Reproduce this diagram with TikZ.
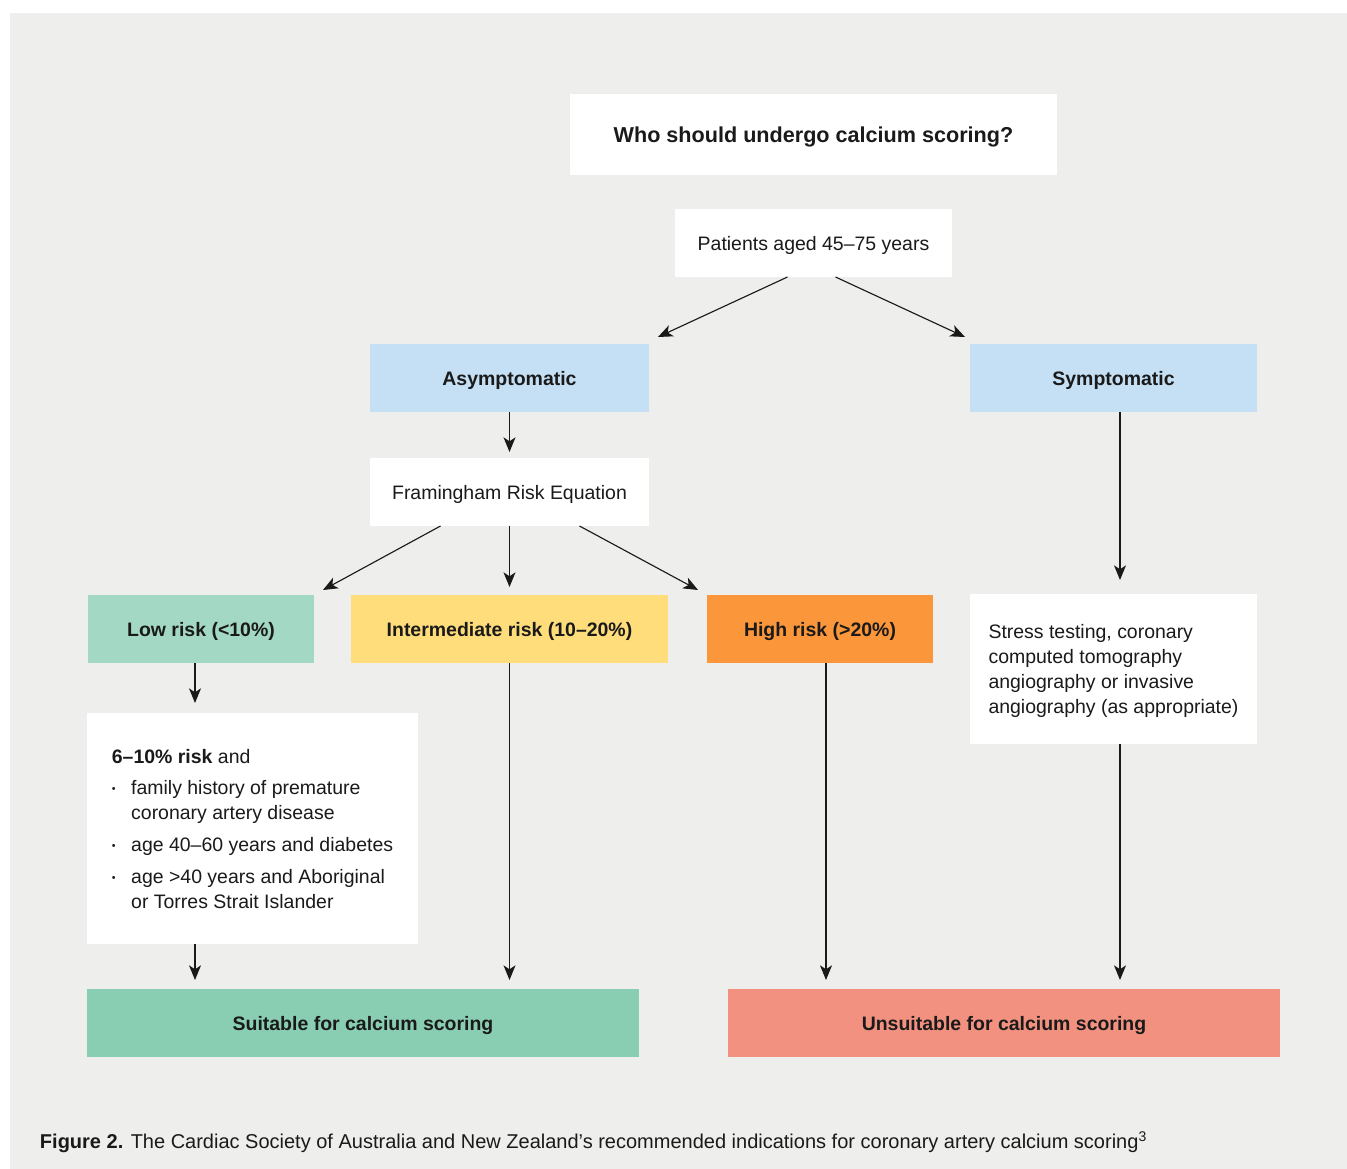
\documentclass[tikz,border=0pt]{standalone}
\usepackage{fontspec}
\usepackage{xcolor}
\usetikzlibrary{arrows.meta,calc}
\setmainfont{Liberation Sans}

\definecolor{bgray}{HTML}{EEEEEC}
\definecolor{skyblue}{HTML}{C5E0F4}
\definecolor{lowgreen}{HTML}{A3D9C4}
\definecolor{midyellow}{HTML}{FEDD7A}
\definecolor{highorange}{HTML}{FB963A}
\definecolor{okgreen}{HTML}{89CEB3}
\definecolor{nosalmon}{HTML}{F2917F}
\definecolor{ink}{HTML}{1A1A1A}

\def\px{0.75pt}

\begin{document}
\begin{tikzpicture}[x=\px, y=-\px,
    every node/.style={inner sep=0pt, outer sep=0pt, text=ink, font=\fontsize{14.6}{18.75}\selectfont},
    box/.style 2 args={minimum width=#1*\px, minimum height=#2*\px, align=center, text depth=0pt},
    head/.style={font=\fontsize{14.6}{18.75}\selectfont\bfseries},
    arr/.style={draw=ink, line width=0.85pt, -{Stealth[length=11pt, width=9pt, inset=3pt]}}]
    \useasboundingbox (0,0) rectangle (1347,1169);
    \fill[white] (0,0) rectangle (1347,1169);
    \fill[bgray] (10,13) rectangle (1347,1169);

    \node[box={487}{81}, fill=white, font=\fontsize{16.2}{20}\selectfont\bfseries] (title) at (813.5,134.5) {Who should undergo calcium scoring?};
    \node[box={277}{68}, fill=white] (pat) at (813.5,243) {Patients aged 45--75 years};
    \node[box={279}{68}, fill=skyblue, head] (asym) at (509.5,378) {Asymptomatic};
    \node[box={287}{68}, fill=skyblue, head] (sym) at (1113.5,378) {Symptomatic};
    \node[box={279}{68}, fill=white] (fram) at (509.5,492) {Framingham Risk Equation};
    \node[box={226}{68}, fill=lowgreen, head] (low) at (201,629) {Low risk (<10\%)};
    \node[box={317}{68}, fill=midyellow, head] (inter) at (509.5,629) {Intermediate risk (10--20\%)};
    \node[box={226}{68}, fill=highorange, head] (high) at (820,629) {High risk (>20\%)};
    \node[box={287}{150}, fill=white, align=left] (stress) at (1113.5,669)
        {Stress testing, coronary\\computed tomography\\angiography or invasive\\angiography (as appropriate)};
    \node[box={331}{231}, fill=white, align=left] (lowdet) at (252.5,828.5)
        {\textbf{6--10\% risk} and\\[5pt]
         \makebox[14.5pt][l]{\raisebox{1.5pt}{\scalebox{0.55}{\textbullet}}}family history of premature\\
         \makebox[14.5pt][l]{}coronary artery disease\\[5pt]
         \makebox[14.5pt][l]{\raisebox{1.5pt}{\scalebox{0.55}{\textbullet}}}age 40--60 years and diabetes\\[5pt]
         \makebox[14.5pt][l]{\raisebox{1.5pt}{\scalebox{0.55}{\textbullet}}}age >40 years and Aboriginal\\
         \makebox[14.5pt][l]{}or Torres Strait Islander};
    \node[box={552}{68}, fill=okgreen, head] (suit) at (363,1023) {Suitable for calcium scoring};
    \node[box={552}{68}, fill=nosalmon, head] (unsuit) at (1004,1023) {Unsuitable for calcium scoring};

    \node[anchor=base west, font=\fontsize{15}{18}\selectfont] (caption) at (40,1148)
        {\textbf{Figure 2.} The Cardiac Society of Australia and New Zealand’s recommended indications for coronary artery calcium scoring\textsuperscript{3}};

    % patients -> branches
    \draw[arr] ($(pat.south)+(-26,0)$) -- ($(asym.north east)+(9,-7)$);
    \draw[arr] ($(pat.south)+(22,0)$) -- ($(sym.north west)+(-5,-7)$);
    \draw[arr] (asym.south) -- ($(fram.north)+(0,-6)$);
    % risk groups
    \draw[arr] ($(fram.south)+(-69,0)$) -- ($(low.north east)+(9,-5)$);
    \draw[arr] (fram.south) -- ($(inter.north)+(0,-8)$);
    \draw[arr] ($(fram.south)+(70,0)$) -- ($(high.north west)+(-9,-5)$);
    \draw[arr] ($(sym.south)+(6.5,0)$) -- ($(stress.north)+(6.5,-14)$);
    \draw[arr] ($(low.south)+(-6,0)$) -- ($(low.south |- lowdet.north)+(-6,-10)$);
    % outcomes
    \draw[arr] ($(lowdet.south -| low.south)+(-6,0)$) -- ($(suit.north -| low.south)+(-6,-9)$);
    \draw[arr] (inter.south) -- ($(inter.south |- suit.north)+(0,-9)$);
    \draw[arr] ($(high.south)+(6,0)$) -- ($(high.south |- unsuit.north)+(6,-9)$);
    \draw[arr] ($(stress.south)+(6.5,0)$) -- ($(stress.south |- unsuit.north)+(6.5,-9)$);
\end{tikzpicture}
\end{document}
